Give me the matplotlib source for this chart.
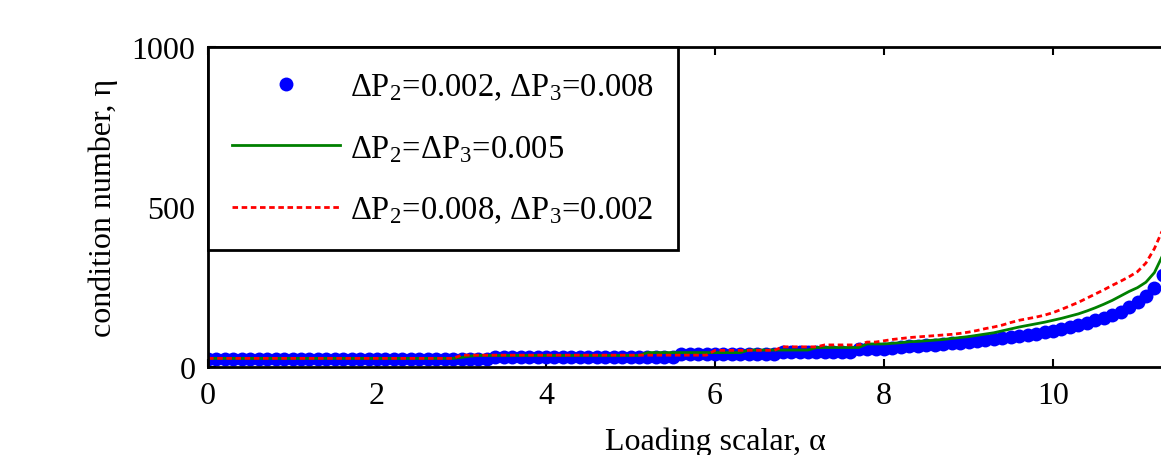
import matplotlib
matplotlib.use("Agg")
import matplotlib.pyplot as plt
import numpy as np

plt.rcParams['font.family'] = ['Liberation Serif', 'DejaVu Serif']
plt.rcParams['font.size'] = 23

# loading scalar, 0 to 11.4 in steps of 0.1
alpha = np.round(np.arange(0, 11.45, 0.1), 1)

# dP2=0.002, dP3=0.008 (blue dots)
eta_a = ([25] * 34 + [31] * 22 + [40] * 12 + [48] * 9 + [55] * 4 +
         [58, 61, 65, 67, 69, 70, 72, 74, 76, 78,
          81, 84, 87, 90, 94, 97, 100, 104, 109, 113,
          118, 124, 132, 139, 146, 154, 162, 173, 187, 203,
          222, 247, 287, 330])
# dP2=dP3=0.005 (green line)
eta_b = ([27] * 30 + [30, 34] + [36] * 20 + [45] * 12 + [53] * 8 + [61] * 6 + [72] * 3 +
         [74, 76, 79, 80, 82, 84, 86, 89, 92, 95,
          99, 103, 107, 113, 119, 125, 130, 135, 140, 146,
          152, 159, 166, 175, 185, 196, 208, 222, 236, 248,
          265, 295, 350, 410])
# dP2=0.008, dP3=0.002 (red dashed)
eta_c = ([27] * 30 + [37] * 30 + [52] * 8 + [63] * 5 + [69] * 5 + [78] * 2 +
         [82, 86, 89, 92, 94, 96, 98, 100, 102, 105,
          109, 114, 120, 125, 131, 139, 146, 151, 156, 162,
          170, 180, 191, 202, 215, 228, 241, 255, 268, 282,
          298, 325, 370, 430, 510])

labels = ['Δ$\\mathregular{P_2}$=0.002, Δ$\\mathregular{P_3}$=0.008',
          'Δ$\\mathregular{P_2}$=Δ$\\mathregular{P_3}$=0.005',
          'Δ$\\mathregular{P_2}$=0.008, Δ$\\mathregular{P_3}$=0.002']

fig = plt.figure(figsize=(11.61, 4.56), dpi=100)
# the axes run past the right edge of the picture, as in the original crop
ax = fig.add_axes([208 / 1161, 1 - 368 / 456, 1014 / 1161, 320 / 456])

ax.plot(alpha, eta_a, 'o', color='#0000ff', markersize=10, markeredgewidth=0,
        label=labels[0])
ax.plot(alpha, eta_b, '-', color='#008000', linewidth=2, label=labels[1])
ax.plot(alpha, eta_c, '--', color='#ff0000', linewidth=2, dashes=(2, 1.3),
        label=labels[2])

ax.set_xlim(0, 12)
ax.set_ylim(0, 1000)
ax.set_xticks([0, 2, 4, 6, 8, 10])
ax.set_yticks([0, 500, 1000])
ax.tick_params(direction='in', length=6, width=1.5, top=True, right=True)
ax.tick_params(axis='x', pad=10)
ax.tick_params(axis='y', pad=9)
for s in ax.spines.values():
    s.set_linewidth(2)

ax.set_xlabel('Loading scalar, α', labelpad=12)
ax.set_ylabel('condition number, η', labelpad=10)

leg = ax.legend(loc='upper left', bbox_to_anchor=(0, 1), borderaxespad=0,
                fancybox=False, edgecolor='black', framealpha=1,
                fontsize=23.5, handlelength=3.3, handletextpad=0.3,
                labelspacing=0.95, borderpad=0.75, numpoints=1)
leg.get_frame().set_linewidth(2)

fig.savefig('out.png', dpi=100)
